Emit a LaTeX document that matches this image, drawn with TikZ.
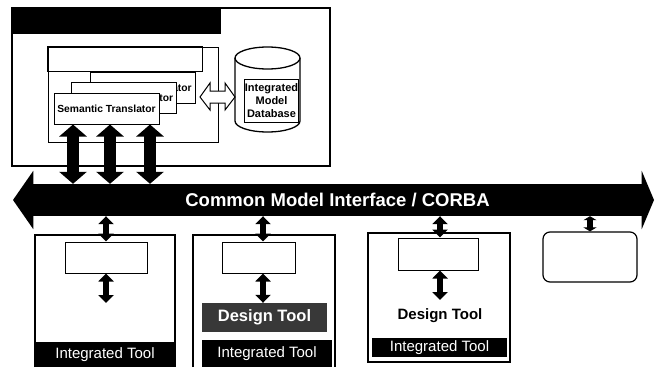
\documentclass[tikz,border=0pt]{standalone}
\usepackage{fontspec}
\setmainfont{Liberation Sans}
\usetikzlibrary{arrows.meta,calc}
\begin{document}
\begin{tikzpicture}[x=1pt,y=-1pt,line join=miter,
  frame/.style={draw=black,line width=1.3pt},
  thin frame/.style={draw=black,line width=1pt},
  stbox/.style={draw=black,fill=white,line width=1pt,minimum width=105pt,minimum height=31pt,inner sep=0pt,font=\bfseries\fontsize{10.3}{12}\selectfont},
  bigdbl/.style={line width=12pt,{Triangle[width=27pt,length=12pt]}-{Triangle[width=27pt,length=12pt]}},
  smalldbl/.style={line width=6.5pt,{Triangle[width=15pt,length=8pt]}-{Triangle[width=15pt,length=8pt]}},
  shortdbl/.style={line width=6pt,{Triangle[width=13pt,length=4pt]}-{Triangle[width=13pt,length=4pt]}},
  toollabel/.style={fill=black,text=white,inner sep=0pt,font=\fontsize{15}{17}\selectfont},
  innerbox/.style={draw=black,fill=white,line width=1pt,inner sep=0pt},
]
\useasboundingbox (0,0) rectangle (655,367);
% ---------- top box ----------
\node[frame,fill=white,minimum width=318pt,minimum height=158pt,inner sep=0pt] (top) at (171,87) {};
\node[fill=black,minimum width=209pt,minimum height=26pt,inner sep=0pt] (header) at (116.5,21) {};
\node[thin frame,minimum width=170pt,minimum height=95pt,inner sep=0pt] (inner) at (133,94.5) {};
\draw[thin frame] (inner.north west) rectangle (202,71);
\node[stbox] (st3) at (142.5,88) {Semantic Translator};
\node[stbox] (st2) at (124,97.5) {Semantic Translator};
\node[stbox] (st1) at (106.5,108.5) {Semantic Translator};
% database cylinder
\draw[frame,fill=white] (235,58) -- (235,121) arc[start angle=180,end angle=360,x radius=32.5pt,y radius=11pt]
  -- (300,58) arc[start angle=0,end angle=180,x radius=32.5pt,y radius=11pt] -- cycle;
\draw[frame] (235,58) arc[start angle=180,end angle=360,x radius=32.5pt,y radius=11pt];
\node[thin frame,fill=white,minimum width=53pt,minimum height=43pt,inner sep=0pt,align=center,
  font=\bfseries\fontsize{11}{13}\selectfont] (db) at (271.5,100.5) {Integrated\\Model\\Database};
% hollow double arrow between translators and database
\draw[thin frame,fill=white] (200,97) -- (210,83) -- (210,91) -- (225,91) -- (225,83) -- (235,97)
  -- (225,110) -- (225,103) -- (210,103) -- (210,110) -- cycle;
% ---------- common model interface bar ----------
\node[fill=black,text=white,minimum width=609pt,minimum height=32pt,inner sep=0pt,
  font=\bfseries\fontsize{18.5}{20}\selectfont] (bar) at (337.5,200) {Common Model Interface / CORBA};
\fill[black] (bar.north west) ++(0.5,-13) -- (13,200) -- ($(bar.south west)+(0.5,13)$) -- cycle;
\fill[black] (bar.north east) ++(-0.5,-13) -- (654,200) -- ($(bar.south east)+(-0.5,13)$) -- cycle;
% thick arrows translator <-> bar
\coordinate (a1) at (73,0);
\coordinate (a2) at (110,0);
\coordinate (a3) at (150,0);
\draw[bigdbl] (a1 |- st1.south) -- (a1 |- bar.north);
\draw[bigdbl] (a2 |- st1.south) -- (a2 |- bar.north);
\draw[bigdbl] (a3 |- st1.south) -- (a3 |- bar.north);
% ---------- lower tools ----------
\draw[frame] (35,367) -- (35,235) -- (175,235) -- (175,367);
\draw[frame] (193,367) -- (193,235) -- (335,235) -- (335,367);
\node[frame,minimum width=142pt,minimum height=129pt,inner sep=0pt] (tool3) at (439,297.5) {};
\node[draw=black,line width=1.2pt,rounded corners=7pt,minimum width=94pt,minimum height=50pt,inner sep=0pt] (tool4) at (590,257) {};

\node[innerbox,minimum width=82pt,minimum height=31pt] (in1) at (106,257.5) {};
\node[innerbox,minimum width=73pt,minimum height=31pt] (in2) at (258.5,257.5) {};
\node[innerbox,minimum width=80pt,minimum height=32pt] (in3) at (438,254) {};

\node[toollabel,minimum width=140pt,minimum height=25pt] (lab1) at (105,354.5) {Integrated Tool};
\node[toollabel,minimum width=130pt,minimum height=27pt] (lab2) at (267,353.5) {Integrated Tool};
\node[toollabel,minimum width=135pt,minimum height=19pt] (lab3) at (439.5,347.5) {Integrated Tool};

\node[fill=black!78,text=white,minimum width=125pt,minimum height=29pt,inner sep=0pt,
  font=\bfseries\fontsize{16.5}{18}\selectfont] (dt2) at (264.5,317.5) {Design Tool};
\node[inner sep=0pt,font=\bfseries\fontsize{15}{17}\selectfont] (dt3) at (440,316) {Design Tool};

\coordinate (x1) at (106,0);
\coordinate (x2) at (263,0);
\coordinate (x3) at (440,0);
\coordinate (e1) at (106,303);
\coordinate (e3) at (440,300);
\draw[smalldbl] (x1 |- bar.south) -- (x1 |- in1.north);
\draw[smalldbl] (x2 |- bar.south) -- (x2 |- in2.north);
\draw[smalldbl] (x3 |- bar.south) -- (x3 |- in3.north);
\draw[shortdbl] (tool4.north |- bar.south) -- (tool4.north);
\draw[smalldbl] (in1.south) -- (e1);
\draw[smalldbl] (x2 |- in2.south) -- (x2 |- dt2.north);
\draw[smalldbl] (x3 |- in3.south) -- (e3);
\end{tikzpicture}
\end{document}
